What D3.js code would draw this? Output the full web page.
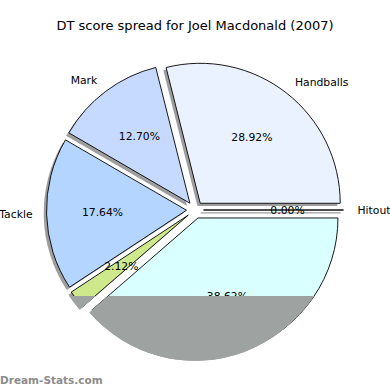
<!DOCTYPE html>
<html><head><meta charset="utf-8">
<script src="https://cdn.jsdelivr.net/npm/d3@7"></script>
<style>body{margin:0;background:#fff}svg{display:block}</style>
</head><body>
<svg id="c" width="390" height="390"></svg>
<script>
const categories = ["Handballs", "Mark", "Tackle", "", "", "Hitout"];
const values = [28.92, 12.70, 17.64, 2.12, 38.62, 0.00];
const colors = ["#eaf1ff", "#c6daff", "#b4d5ff", "#cde98c", "#d9ffff", "#ffffff"];
const title = "DT score spread for Joel Macdonald (2007)";
const watermark = "Dream-Stats.com";

const svg = d3.select("#c");
const cx = 195, cy = 210, r = 140, ex = 8.5, sh = 2.8;

svg.append("text").attr("x", 195).attr("y", 30).attr("text-anchor", "middle")
  .attr("font-family", "DejaVu Sans").attr("font-size", 13).attr("fill", "#000").text(title);

const pie = d3.pie().sort(null).value(d => d.v)
  .startAngle(Math.PI / 2).endAngle(Math.PI / 2 - 2 * Math.PI);
const data = pie(categories.map((c, i) => ({c, v: values[i], col: colors[i]})));
const arc = d3.arc().innerRadius(0).outerRadius(r);

function off(d, k) {
  const a = (d.startAngle + d.endAngle) / 2;
  return [Math.sin(a) * k, -Math.cos(a) * k];
}

const g = svg.append("g").attr("transform", `translate(${cx},${cy})`);

// shadows
g.selectAll("path.sh").data(data).join("path").attr("class", "sh")
  .attr("d", arc)
  .attr("transform", d => { const o = off(d, ex); return `translate(${o[0] - sh},${o[1] + sh})`; })
  .attr("fill", "rgba(0,0,0,0.38)")
  .attr("stroke", d => d.data.v === 0 ? "rgba(0,0,0,0.38)" : "none")
  .attr("stroke-width", 1.2);

// wedges
g.selectAll("path.w").data(data).join("path").attr("class", "w")
  .attr("d", arc)
  .attr("transform", d => { const o = off(d, ex); return `translate(${o[0]},${o[1]})`; })
  .attr("fill", d => d.data.col).attr("stroke", "#000").attr("stroke-width", 0.9)
  .attr("stroke-linejoin", "miter");

// labels
data.forEach(d => {
  const o = off(d, ex);
  const a = (d.startAngle + d.endAngle) / 2;
  const p = [o[0] + Math.sin(a) * r * 1.1, o[1] - Math.cos(a) * r * 1.1];
  if (d.data.c) {
    g.append("text").attr("x", p[0]).attr("y", p[1]).attr("dy", "0.35em")
      .attr("text-anchor", Math.sin(a) >= -1e-9 ? "start" : "end")
      .attr("font-family", "DejaVu Sans").attr("font-size", 10.8).attr("fill", "#000")
      .text(d.data.c);
  }
  const q = [o[0] + Math.sin(a) * r * 0.6, o[1] - Math.cos(a) * r * 0.6];
  g.append("text").attr("x", q[0]).attr("y", q[1]).attr("dy", "0.35em")
    .attr("text-anchor", "middle")
    .attr("font-family", "DejaVu Sans").attr("font-size", 10.8).attr("fill", "#000")
    .text(d3.format(".2f")(d.data.v) + "%");
});

// gray mask over lower part
svg.append("clipPath").attr("id", "lowclip").append("rect")
  .attr("x", 0).attr("y", 296).attr("width", 390).attr("height", 94);
const mg = svg.append("g").attr("clip-path", "url(#lowclip)")
  .append("g").attr("transform", `translate(${cx},${cy})`);
data.forEach(d => {
  const o = off(d, ex);
  mg.append("path").attr("d", arc(d)).attr("transform", `translate(${o[0] - sh},${o[1] + sh})`).attr("fill", "#9ea3a2");
  mg.append("path").attr("d", arc(d)).attr("transform", `translate(${o[0]},${o[1]})`).attr("fill", "#9ea3a2");
});

svg.append("text").attr("x", 0).attr("y", 384)
  .attr("font-family", "DejaVu Sans").attr("font-weight", "bold").attr("font-size", 10.5)
  .attr("fill", "#8c8c8c").text(watermark);
</script>
</body></html>
